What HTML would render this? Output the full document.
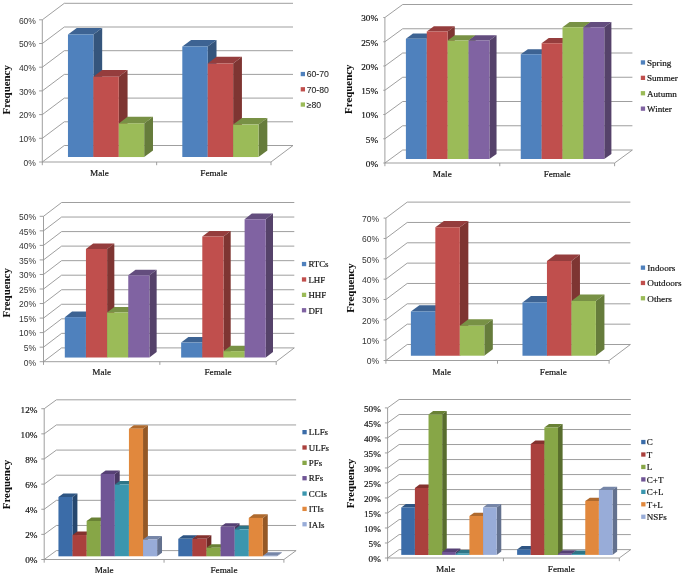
<!DOCTYPE html>
<html lang="en">
<head>
<meta charset="utf-8">
<title>Frequency charts</title>
<style>
html,body{margin:0;padding:0;background:#fff;}
body{width:685px;height:581px;overflow:hidden;}
svg{display:block;}
svg text{font-family:"Liberation Serif", serif;fill:#111;stroke:#111;stroke-width:0.18px;}
</style>
</head>
<body>
<svg width="685" height="581" viewBox="0 0 685 581">
<defs><filter id="soft" filterUnits="userSpaceOnUse" x="0" y="0" width="685" height="581"><feGaussianBlur stdDeviation="0.4"/></filter></defs>
<rect x="0" y="0" width="685" height="581" fill="#ffffff"/>
<g filter="url(#soft)">
<polyline points="42.3,162 64.3,145.5 293,145.5" fill="none" stroke="#949494" stroke-width="0.9"/>
<line x1="39.1" y1="162" x2="42.3" y2="162" stroke="#949494" stroke-width="0.9"/>
<polyline points="42.3,138.3 64.3,121.8 293,121.8" fill="none" stroke="#949494" stroke-width="0.9"/>
<line x1="39.1" y1="138.3" x2="42.3" y2="138.3" stroke="#949494" stroke-width="0.9"/>
<polyline points="42.3,114.6 64.3,98.1 293,98.1" fill="none" stroke="#949494" stroke-width="0.9"/>
<line x1="39.1" y1="114.6" x2="42.3" y2="114.6" stroke="#949494" stroke-width="0.9"/>
<polyline points="42.3,90.9 64.3,74.4 293,74.4" fill="none" stroke="#949494" stroke-width="0.9"/>
<line x1="39.1" y1="90.9" x2="42.3" y2="90.9" stroke="#949494" stroke-width="0.9"/>
<polyline points="42.3,67.2 64.3,50.7 293,50.7" fill="none" stroke="#949494" stroke-width="0.9"/>
<line x1="39.1" y1="67.2" x2="42.3" y2="67.2" stroke="#949494" stroke-width="0.9"/>
<polyline points="42.3,43.5 64.3,27 293,27" fill="none" stroke="#949494" stroke-width="0.9"/>
<line x1="39.1" y1="43.5" x2="42.3" y2="43.5" stroke="#949494" stroke-width="0.9"/>
<polyline points="42.3,19.8 64.3,3.3 293,3.3" fill="none" stroke="#949494" stroke-width="0.9"/>
<line x1="39.1" y1="19.8" x2="42.3" y2="19.8" stroke="#949494" stroke-width="0.9"/>
<line x1="271" y1="162" x2="293" y2="145.5" stroke="#949494" stroke-width="0.9"/>
<line x1="42.3" y1="162" x2="271" y2="162" stroke="#949494" stroke-width="0.9"/>
<line x1="42.3" y1="19.8" x2="42.3" y2="165.2" stroke="#949494" stroke-width="0.9"/>
<line x1="156.65" y1="162" x2="156.65" y2="165.2" stroke="#949494" stroke-width="0.9"/>
<line x1="271" y1="162" x2="271" y2="165.2" stroke="#949494" stroke-width="0.9"/>
<polygon points="67.96,34.52 93.37,34.52 102.17,27.92 76.76,27.92" fill="#3d6493"/>
<polygon points="93.37,157.05 102.17,150.45 102.17,27.92 93.37,34.52" fill="#34557c"/>
<polygon points="67.96,157.05 93.37,157.05 93.37,34.52 67.96,34.52" fill="#4F81BD"/>
<polygon points="93.37,76.71 118.78,76.71 127.58,70.11 102.17,70.11" fill="#953e3c"/>
<polygon points="118.78,157.05 127.58,150.45 127.58,70.11 118.78,76.71" fill="#7e3432"/>
<polygon points="93.37,157.05 118.78,157.05 118.78,76.71 93.37,76.71" fill="#C0504D"/>
<polygon points="118.78,123.4 144.19,123.4 152.99,116.8 127.58,116.8" fill="#789145"/>
<polygon points="144.19,157.05 152.99,150.45 152.99,116.8 144.19,123.4" fill="#667b3a"/>
<polygon points="118.78,157.05 144.19,157.05 144.19,123.4 118.78,123.4" fill="#9BBB59"/>
<polygon points="182.31,46.61 207.72,46.61 216.52,40.01 191.11,40.01" fill="#3d6493"/>
<polygon points="207.72,157.05 216.52,150.45 216.52,40.01 207.72,46.61" fill="#34557c"/>
<polygon points="182.31,157.05 207.72,157.05 207.72,46.61 182.31,46.61" fill="#4F81BD"/>
<polygon points="207.72,63.44 233.13,63.44 241.93,56.84 216.52,56.84" fill="#953e3c"/>
<polygon points="233.13,157.05 241.93,150.45 241.93,56.84 233.13,63.44" fill="#7e3432"/>
<polygon points="207.72,157.05 233.13,157.05 233.13,63.44 207.72,63.44" fill="#C0504D"/>
<polygon points="233.13,124.58 258.54,124.58 267.34,117.98 241.93,117.98" fill="#789145"/>
<polygon points="258.54,157.05 267.34,150.45 267.34,117.98 258.54,124.58" fill="#667b3a"/>
<polygon points="233.13,157.05 258.54,157.05 258.54,124.58 233.13,124.58" fill="#9BBB59"/>
<rect x="300.7" y="71.9" width="4.3" height="4.3" fill="#4F81BD"/>
<rect x="300.7" y="87.15" width="4.3" height="4.3" fill="#C0504D"/>
<rect x="300.7" y="102.4" width="4.3" height="4.3" fill="#9BBB59"/>
</g>
<g>
<text x="35.9" y="165.8" text-anchor="end" font-size="8.5" style="font-family:&quot;Liberation Sans&quot;, sans-serif;fill:#333;stroke:none">0%</text>
<text x="35.9" y="142.1" text-anchor="end" font-size="8.5" style="font-family:&quot;Liberation Sans&quot;, sans-serif;fill:#333;stroke:none">10%</text>
<text x="35.9" y="118.4" text-anchor="end" font-size="8.5" style="font-family:&quot;Liberation Sans&quot;, sans-serif;fill:#333;stroke:none">20%</text>
<text x="35.9" y="94.7" text-anchor="end" font-size="8.5" style="font-family:&quot;Liberation Sans&quot;, sans-serif;fill:#333;stroke:none">30%</text>
<text x="35.9" y="71" text-anchor="end" font-size="8.5" style="font-family:&quot;Liberation Sans&quot;, sans-serif;fill:#333;stroke:none">40%</text>
<text x="35.9" y="47.3" text-anchor="end" font-size="8.5" style="font-family:&quot;Liberation Sans&quot;, sans-serif;fill:#333;stroke:none">50%</text>
<text x="35.9" y="23.6" text-anchor="end" font-size="8.5" style="font-family:&quot;Liberation Sans&quot;, sans-serif;fill:#333;stroke:none">60%</text>
<text x="99.47" y="176" text-anchor="middle" font-size="9.2">Male</text>
<text x="213.82" y="176" text-anchor="middle" font-size="9.2">Female</text>
<text transform="translate(10,89.8) rotate(-90)" text-anchor="middle" font-weight="bold" font-size="10.9" style="stroke-width:0.05px">Frequency</text>
<text x="306.7" y="77.3" font-size="8.7" style="font-family:&quot;Liberation Sans&quot;, sans-serif;fill:#2b2b2b;stroke-width:0.08px">60-70</text>
<text x="306.7" y="92.55" font-size="8.7" style="font-family:&quot;Liberation Sans&quot;, sans-serif;fill:#2b2b2b;stroke-width:0.08px">70-80</text>
<text x="306.7" y="107.8" font-size="8.7" style="font-family:&quot;Liberation Sans&quot;, sans-serif;fill:#2b2b2b;stroke-width:0.08px">≥80</text>
</g>
<g filter="url(#soft)">
<polyline points="384.9,163 402.7,150 632.4,150" fill="none" stroke="#949494" stroke-width="0.9"/>
<line x1="383.3" y1="163" x2="384.9" y2="163" stroke="#949494" stroke-width="0.9"/>
<polyline points="384.9,138.75 402.7,125.75 632.4,125.75" fill="none" stroke="#949494" stroke-width="0.9"/>
<line x1="383.3" y1="138.75" x2="384.9" y2="138.75" stroke="#949494" stroke-width="0.9"/>
<polyline points="384.9,114.5 402.7,101.5 632.4,101.5" fill="none" stroke="#949494" stroke-width="0.9"/>
<line x1="383.3" y1="114.5" x2="384.9" y2="114.5" stroke="#949494" stroke-width="0.9"/>
<polyline points="384.9,90.25 402.7,77.25 632.4,77.25" fill="none" stroke="#949494" stroke-width="0.9"/>
<line x1="383.3" y1="90.25" x2="384.9" y2="90.25" stroke="#949494" stroke-width="0.9"/>
<polyline points="384.9,66 402.7,53 632.4,53" fill="none" stroke="#949494" stroke-width="0.9"/>
<line x1="383.3" y1="66" x2="384.9" y2="66" stroke="#949494" stroke-width="0.9"/>
<polyline points="384.9,41.75 402.7,28.75 632.4,28.75" fill="none" stroke="#949494" stroke-width="0.9"/>
<line x1="383.3" y1="41.75" x2="384.9" y2="41.75" stroke="#949494" stroke-width="0.9"/>
<polyline points="384.9,17.5 402.7,4.5 632.4,4.5" fill="none" stroke="#949494" stroke-width="0.9"/>
<line x1="383.3" y1="17.5" x2="384.9" y2="17.5" stroke="#949494" stroke-width="0.9"/>
<line x1="614.6" y1="163" x2="632.4" y2="150" stroke="#949494" stroke-width="0.9"/>
<line x1="384.9" y1="163" x2="614.6" y2="163" stroke="#949494" stroke-width="0.9"/>
<line x1="384.9" y1="17.5" x2="384.9" y2="166.2" stroke="#949494" stroke-width="0.9"/>
<line x1="499.75" y1="163" x2="499.75" y2="166.2" stroke="#949494" stroke-width="0.9"/>
<line x1="614.6" y1="163" x2="614.6" y2="166.2" stroke="#949494" stroke-width="0.9"/>
<polygon points="405.9,38.82 426.78,38.82 433.9,33.62 413.02,33.62" fill="#3d6493"/>
<polygon points="426.78,159.1 433.9,153.9 433.9,33.62 426.78,38.82" fill="#34557c"/>
<polygon points="405.9,159.1 426.78,159.1 426.78,38.82 405.9,38.82" fill="#4F81BD"/>
<polygon points="426.78,31.55 447.66,31.55 454.78,26.35 433.9,26.35" fill="#953e3c"/>
<polygon points="447.66,159.1 454.78,153.9 454.78,26.35 447.66,31.55" fill="#7e3432"/>
<polygon points="426.78,159.1 447.66,159.1 447.66,31.55 426.78,31.55" fill="#C0504D"/>
<polygon points="447.66,40.52 468.55,40.52 475.67,35.32 454.78,35.32" fill="#789145"/>
<polygon points="468.55,159.1 475.67,153.9 475.67,35.32 468.55,40.52" fill="#667b3a"/>
<polygon points="447.66,159.1 468.55,159.1 468.55,40.52 447.66,40.52" fill="#9BBB59"/>
<polygon points="468.55,40.52 489.43,40.52 496.55,35.32 475.67,35.32" fill="#634e7e"/>
<polygon points="489.43,159.1 496.55,153.9 496.55,35.32 489.43,40.52" fill="#54426a"/>
<polygon points="468.55,159.1 489.43,159.1 489.43,40.52 468.55,40.52" fill="#8064A2"/>
<polygon points="520.75,54.34 541.63,54.34 548.75,49.14 527.87,49.14" fill="#3d6493"/>
<polygon points="541.63,159.1 548.75,153.9 548.75,49.14 541.63,54.34" fill="#34557c"/>
<polygon points="520.75,159.1 541.63,159.1 541.63,54.34 520.75,54.34" fill="#4F81BD"/>
<polygon points="541.63,43.19 562.51,43.19 569.63,37.99 548.75,37.99" fill="#953e3c"/>
<polygon points="562.51,159.1 569.63,153.9 569.63,37.99 562.51,43.19" fill="#7e3432"/>
<polygon points="541.63,159.1 562.51,159.1 562.51,43.19 541.63,43.19" fill="#C0504D"/>
<polygon points="562.51,27.18 583.4,27.18 590.52,21.98 569.63,21.98" fill="#789145"/>
<polygon points="583.4,159.1 590.52,153.9 590.52,21.98 583.4,27.18" fill="#667b3a"/>
<polygon points="562.51,159.1 583.4,159.1 583.4,27.18 562.51,27.18" fill="#9BBB59"/>
<polygon points="583.4,27.18 604.28,27.18 611.4,21.98 590.52,21.98" fill="#634e7e"/>
<polygon points="604.28,159.1 611.4,153.9 611.4,21.98 604.28,27.18" fill="#54426a"/>
<polygon points="583.4,159.1 604.28,159.1 604.28,27.18 583.4,27.18" fill="#8064A2"/>
<rect x="640.8" y="60.3" width="4.3" height="4.3" fill="#4F81BD"/>
<rect x="640.8" y="75.7" width="4.3" height="4.3" fill="#C0504D"/>
<rect x="640.8" y="91.1" width="4.3" height="4.3" fill="#9BBB59"/>
<rect x="640.8" y="106.5" width="4.3" height="4.3" fill="#8064A2"/>
</g>
<g>
<text x="378.1" y="166.9" text-anchor="end" font-size="9.2">0%</text>
<text x="378.1" y="142.65" text-anchor="end" font-size="9.2">5%</text>
<text x="378.1" y="118.4" text-anchor="end" font-size="9.2">10%</text>
<text x="378.1" y="94.15" text-anchor="end" font-size="9.2">15%</text>
<text x="378.1" y="69.9" text-anchor="end" font-size="9.2">20%</text>
<text x="378.1" y="45.65" text-anchor="end" font-size="9.2">25%</text>
<text x="378.1" y="21.4" text-anchor="end" font-size="9.2">30%</text>
<text x="442.32" y="177" text-anchor="middle" font-size="9.2">Male</text>
<text x="557.17" y="177" text-anchor="middle" font-size="9.2">Female</text>
<text transform="translate(351.5,89.2) rotate(-90)" text-anchor="middle" font-weight="bold" font-size="10.9" style="stroke-width:0.05px">Frequency</text>
<text x="647" y="65.7" font-size="9.1">Spring</text>
<text x="647" y="81.1" font-size="9.1">Summer</text>
<text x="647" y="96.5" font-size="9.1">Autumn</text>
<text x="647" y="111.9" font-size="9.1">Winter</text>
</g>
<g filter="url(#soft)">
<polyline points="43.5,361.7 61.6,347.9 294.3,347.9" fill="none" stroke="#949494" stroke-width="0.9"/>
<line x1="39.7" y1="361.7" x2="43.5" y2="361.7" stroke="#949494" stroke-width="0.9"/>
<polyline points="43.5,347.16 61.6,333.36 294.3,333.36" fill="none" stroke="#949494" stroke-width="0.9"/>
<line x1="39.7" y1="347.16" x2="43.5" y2="347.16" stroke="#949494" stroke-width="0.9"/>
<polyline points="43.5,332.62 61.6,318.82 294.3,318.82" fill="none" stroke="#949494" stroke-width="0.9"/>
<line x1="39.7" y1="332.62" x2="43.5" y2="332.62" stroke="#949494" stroke-width="0.9"/>
<polyline points="43.5,318.08 61.6,304.28 294.3,304.28" fill="none" stroke="#949494" stroke-width="0.9"/>
<line x1="39.7" y1="318.08" x2="43.5" y2="318.08" stroke="#949494" stroke-width="0.9"/>
<polyline points="43.5,303.54 61.6,289.74 294.3,289.74" fill="none" stroke="#949494" stroke-width="0.9"/>
<line x1="39.7" y1="303.54" x2="43.5" y2="303.54" stroke="#949494" stroke-width="0.9"/>
<polyline points="43.5,289 61.6,275.2 294.3,275.2" fill="none" stroke="#949494" stroke-width="0.9"/>
<line x1="39.7" y1="289" x2="43.5" y2="289" stroke="#949494" stroke-width="0.9"/>
<polyline points="43.5,274.46 61.6,260.66 294.3,260.66" fill="none" stroke="#949494" stroke-width="0.9"/>
<line x1="39.7" y1="274.46" x2="43.5" y2="274.46" stroke="#949494" stroke-width="0.9"/>
<polyline points="43.5,259.92 61.6,246.12 294.3,246.12" fill="none" stroke="#949494" stroke-width="0.9"/>
<line x1="39.7" y1="259.92" x2="43.5" y2="259.92" stroke="#949494" stroke-width="0.9"/>
<polyline points="43.5,245.38 61.6,231.58 294.3,231.58" fill="none" stroke="#949494" stroke-width="0.9"/>
<line x1="39.7" y1="245.38" x2="43.5" y2="245.38" stroke="#949494" stroke-width="0.9"/>
<polyline points="43.5,230.84 61.6,217.04 294.3,217.04" fill="none" stroke="#949494" stroke-width="0.9"/>
<line x1="39.7" y1="230.84" x2="43.5" y2="230.84" stroke="#949494" stroke-width="0.9"/>
<polyline points="43.5,216.3 61.6,202.5 294.3,202.5" fill="none" stroke="#949494" stroke-width="0.9"/>
<line x1="39.7" y1="216.3" x2="43.5" y2="216.3" stroke="#949494" stroke-width="0.9"/>
<line x1="276.2" y1="361.7" x2="294.3" y2="347.9" stroke="#949494" stroke-width="0.9"/>
<line x1="43.5" y1="361.7" x2="276.2" y2="361.7" stroke="#949494" stroke-width="0.9"/>
<line x1="43.5" y1="216.3" x2="43.5" y2="364.9" stroke="#949494" stroke-width="0.9"/>
<line x1="159.85" y1="361.7" x2="159.85" y2="364.9" stroke="#949494" stroke-width="0.9"/>
<line x1="276.2" y1="361.7" x2="276.2" y2="364.9" stroke="#949494" stroke-width="0.9"/>
<polygon points="64.8,317.14 85.95,317.14 93.19,311.62 72.04,311.62" fill="#3d6493"/>
<polygon points="85.95,357.56 93.19,352.04 93.19,311.62 85.95,317.14" fill="#34557c"/>
<polygon points="64.8,357.56 85.95,357.56 85.95,317.14 64.8,317.14" fill="#4F81BD"/>
<polygon points="85.95,249.09 107.11,249.09 114.34,243.57 93.19,243.57" fill="#953e3c"/>
<polygon points="107.11,357.56 114.34,352.04 114.34,243.57 107.11,249.09" fill="#7e3432"/>
<polygon points="85.95,357.56 107.11,357.56 107.11,249.09 85.95,249.09" fill="#C0504D"/>
<polygon points="107.1,312.49 128.26,312.49 135.5,306.97 114.34,306.97" fill="#789145"/>
<polygon points="128.26,357.56 135.5,352.04 135.5,306.97 128.26,312.49" fill="#667b3a"/>
<polygon points="107.1,357.56 128.26,357.56 128.26,312.49 107.1,312.49" fill="#9BBB59"/>
<polygon points="128.26,275.26 149.41,275.26 156.65,269.74 135.5,269.74" fill="#634e7e"/>
<polygon points="149.41,357.56 156.65,352.04 156.65,269.74 149.41,275.26" fill="#54426a"/>
<polygon points="128.26,357.56 149.41,357.56 149.41,275.26 128.26,275.26" fill="#8064A2"/>
<polygon points="181.15,342.58 202.3,342.58 209.54,337.06 188.39,337.06" fill="#3d6493"/>
<polygon points="202.3,357.56 209.54,352.04 209.54,337.06 202.3,342.58" fill="#34557c"/>
<polygon points="181.15,357.56 202.3,357.56 202.3,342.58 181.15,342.58" fill="#4F81BD"/>
<polygon points="202.3,236.59 223.46,236.59 230.7,231.07 209.54,231.07" fill="#953e3c"/>
<polygon points="223.46,357.56 230.7,352.04 230.7,231.07 223.46,236.59" fill="#7e3432"/>
<polygon points="202.3,357.56 223.46,357.56 223.46,236.59 202.3,236.59" fill="#C0504D"/>
<polygon points="223.46,351.16 244.61,351.16 251.85,345.64 230.7,345.64" fill="#789145"/>
<polygon points="244.61,357.56 251.85,352.04 251.85,345.64 244.61,351.16" fill="#667b3a"/>
<polygon points="223.46,357.56 244.61,357.56 244.61,351.16 223.46,351.16" fill="#9BBB59"/>
<polygon points="244.61,219.14 265.76,219.14 273,213.62 251.85,213.62" fill="#634e7e"/>
<polygon points="265.76,357.56 273,352.04 273,213.62 265.76,219.14" fill="#54426a"/>
<polygon points="244.61,357.56 265.76,357.56 265.76,219.14 244.61,219.14" fill="#8064A2"/>
<rect x="301.9" y="261.9" width="4.3" height="4.3" fill="#4F81BD"/>
<rect x="301.9" y="277.3" width="4.3" height="4.3" fill="#C0504D"/>
<rect x="301.9" y="292.7" width="4.3" height="4.3" fill="#9BBB59"/>
<rect x="301.9" y="308.1" width="4.3" height="4.3" fill="#8064A2"/>
</g>
<g>
<text x="36.1" y="365.5" text-anchor="end" font-size="8.5" style="font-family:&quot;Liberation Sans&quot;, sans-serif;fill:#333;stroke:none">0%</text>
<text x="36.1" y="350.96" text-anchor="end" font-size="8.5" style="font-family:&quot;Liberation Sans&quot;, sans-serif;fill:#333;stroke:none">5%</text>
<text x="36.1" y="336.42" text-anchor="end" font-size="8.5" style="font-family:&quot;Liberation Sans&quot;, sans-serif;fill:#333;stroke:none">10%</text>
<text x="36.1" y="321.88" text-anchor="end" font-size="8.5" style="font-family:&quot;Liberation Sans&quot;, sans-serif;fill:#333;stroke:none">15%</text>
<text x="36.1" y="307.34" text-anchor="end" font-size="8.5" style="font-family:&quot;Liberation Sans&quot;, sans-serif;fill:#333;stroke:none">20%</text>
<text x="36.1" y="292.8" text-anchor="end" font-size="8.5" style="font-family:&quot;Liberation Sans&quot;, sans-serif;fill:#333;stroke:none">25%</text>
<text x="36.1" y="278.26" text-anchor="end" font-size="8.5" style="font-family:&quot;Liberation Sans&quot;, sans-serif;fill:#333;stroke:none">30%</text>
<text x="36.1" y="263.72" text-anchor="end" font-size="8.5" style="font-family:&quot;Liberation Sans&quot;, sans-serif;fill:#333;stroke:none">35%</text>
<text x="36.1" y="249.18" text-anchor="end" font-size="8.5" style="font-family:&quot;Liberation Sans&quot;, sans-serif;fill:#333;stroke:none">40%</text>
<text x="36.1" y="234.64" text-anchor="end" font-size="8.5" style="font-family:&quot;Liberation Sans&quot;, sans-serif;fill:#333;stroke:none">45%</text>
<text x="36.1" y="220.1" text-anchor="end" font-size="8.5" style="font-family:&quot;Liberation Sans&quot;, sans-serif;fill:#333;stroke:none">50%</text>
<text x="101.67" y="375.2" text-anchor="middle" font-size="9.2">Male</text>
<text x="218.02" y="375.2" text-anchor="middle" font-size="9.2">Female</text>
<text transform="translate(10.2,292.8) rotate(-90)" text-anchor="middle" font-weight="bold" font-size="10.9" style="stroke-width:0.05px">Frequency</text>
<text x="308.4" y="267.3" font-size="8.9">RTCs</text>
<text x="308.4" y="282.7" font-size="8.9">LHF</text>
<text x="308.4" y="298.1" font-size="8.9">HHF</text>
<text x="308.4" y="313.5" font-size="8.9">DFI</text>
</g>
<g filter="url(#soft)">
<polyline points="385.9,360.5 407.2,344.5 630.4,344.5" fill="none" stroke="#949494" stroke-width="0.9"/>
<line x1="383.6" y1="360.5" x2="385.9" y2="360.5" stroke="#949494" stroke-width="0.9"/>
<polyline points="385.9,340.16 407.2,324.16 630.4,324.16" fill="none" stroke="#949494" stroke-width="0.9"/>
<line x1="383.6" y1="340.16" x2="385.9" y2="340.16" stroke="#949494" stroke-width="0.9"/>
<polyline points="385.9,319.82 407.2,303.82 630.4,303.82" fill="none" stroke="#949494" stroke-width="0.9"/>
<line x1="383.6" y1="319.82" x2="385.9" y2="319.82" stroke="#949494" stroke-width="0.9"/>
<polyline points="385.9,299.48 407.2,283.48 630.4,283.48" fill="none" stroke="#949494" stroke-width="0.9"/>
<line x1="383.6" y1="299.48" x2="385.9" y2="299.48" stroke="#949494" stroke-width="0.9"/>
<polyline points="385.9,279.14 407.2,263.14 630.4,263.14" fill="none" stroke="#949494" stroke-width="0.9"/>
<line x1="383.6" y1="279.14" x2="385.9" y2="279.14" stroke="#949494" stroke-width="0.9"/>
<polyline points="385.9,258.8 407.2,242.8 630.4,242.8" fill="none" stroke="#949494" stroke-width="0.9"/>
<line x1="383.6" y1="258.8" x2="385.9" y2="258.8" stroke="#949494" stroke-width="0.9"/>
<polyline points="385.9,238.46 407.2,222.46 630.4,222.46" fill="none" stroke="#949494" stroke-width="0.9"/>
<line x1="383.6" y1="238.46" x2="385.9" y2="238.46" stroke="#949494" stroke-width="0.9"/>
<polyline points="385.9,218.12 407.2,202.12 630.4,202.12" fill="none" stroke="#949494" stroke-width="0.9"/>
<line x1="383.6" y1="218.12" x2="385.9" y2="218.12" stroke="#949494" stroke-width="0.9"/>
<line x1="609.1" y1="360.5" x2="630.4" y2="344.5" stroke="#949494" stroke-width="0.9"/>
<line x1="385.9" y1="360.5" x2="609.1" y2="360.5" stroke="#949494" stroke-width="0.9"/>
<line x1="385.9" y1="218.12" x2="385.9" y2="363.7" stroke="#949494" stroke-width="0.9"/>
<line x1="497.5" y1="360.5" x2="497.5" y2="363.7" stroke="#949494" stroke-width="0.9"/>
<line x1="609.1" y1="360.5" x2="609.1" y2="363.7" stroke="#949494" stroke-width="0.9"/>
<polygon points="410.88,311.56 435.35,311.56 443.87,305.16 419.4,305.16" fill="#3d6493"/>
<polygon points="435.35,355.7 443.87,349.3 443.87,305.16 435.35,311.56" fill="#34557c"/>
<polygon points="410.88,355.7 435.35,355.7 435.35,311.56 410.88,311.56" fill="#4F81BD"/>
<polygon points="435.35,227.35 459.83,227.35 468.35,220.95 443.87,220.95" fill="#953e3c"/>
<polygon points="459.83,355.7 468.35,349.3 468.35,220.95 459.83,227.35" fill="#7e3432"/>
<polygon points="435.35,355.7 459.83,355.7 459.83,227.35 435.35,227.35" fill="#C0504D"/>
<polygon points="459.83,325.7 484.3,325.7 492.82,319.3 468.35,319.3" fill="#789145"/>
<polygon points="484.3,355.7 492.82,349.3 492.82,319.3 484.3,325.7" fill="#667b3a"/>
<polygon points="459.83,355.7 484.3,355.7 484.3,325.7 459.83,325.7" fill="#9BBB59"/>
<polygon points="522.48,302.41 546.95,302.41 555.47,296.01 531,296.01" fill="#3d6493"/>
<polygon points="546.95,355.7 555.47,349.3 555.47,296.01 546.95,302.41" fill="#34557c"/>
<polygon points="522.48,355.7 546.95,355.7 546.95,302.41 522.48,302.41" fill="#4F81BD"/>
<polygon points="546.95,260.92 571.43,260.92 579.95,254.52 555.47,254.52" fill="#953e3c"/>
<polygon points="571.43,355.7 579.95,349.3 579.95,254.52 571.43,260.92" fill="#7e3432"/>
<polygon points="546.95,355.7 571.43,355.7 571.43,260.92 546.95,260.92" fill="#C0504D"/>
<polygon points="571.43,300.99 595.9,300.99 604.42,294.59 579.95,294.59" fill="#789145"/>
<polygon points="595.9,355.7 604.42,349.3 604.42,294.59 595.9,300.99" fill="#667b3a"/>
<polygon points="571.43,355.7 595.9,355.7 595.9,300.99 571.43,300.99" fill="#9BBB59"/>
<rect x="640.8" y="265.5" width="4.3" height="4.3" fill="#4F81BD"/>
<rect x="640.8" y="280.8" width="4.3" height="4.3" fill="#C0504D"/>
<rect x="640.8" y="296.1" width="4.3" height="4.3" fill="#9BBB59"/>
</g>
<g>
<text x="379" y="364.3" text-anchor="end" font-size="8.5" style="font-family:&quot;Liberation Sans&quot;, sans-serif;fill:#333;stroke:none">0%</text>
<text x="379" y="343.96" text-anchor="end" font-size="8.5" style="font-family:&quot;Liberation Sans&quot;, sans-serif;fill:#333;stroke:none">10%</text>
<text x="379" y="323.62" text-anchor="end" font-size="8.5" style="font-family:&quot;Liberation Sans&quot;, sans-serif;fill:#333;stroke:none">20%</text>
<text x="379" y="303.28" text-anchor="end" font-size="8.5" style="font-family:&quot;Liberation Sans&quot;, sans-serif;fill:#333;stroke:none">30%</text>
<text x="379" y="282.94" text-anchor="end" font-size="8.5" style="font-family:&quot;Liberation Sans&quot;, sans-serif;fill:#333;stroke:none">40%</text>
<text x="379" y="262.6" text-anchor="end" font-size="8.5" style="font-family:&quot;Liberation Sans&quot;, sans-serif;fill:#333;stroke:none">50%</text>
<text x="379" y="242.26" text-anchor="end" font-size="8.5" style="font-family:&quot;Liberation Sans&quot;, sans-serif;fill:#333;stroke:none">60%</text>
<text x="379" y="221.92" text-anchor="end" font-size="8.5" style="font-family:&quot;Liberation Sans&quot;, sans-serif;fill:#333;stroke:none">70%</text>
<text x="441.7" y="374.5" text-anchor="middle" font-size="9.2">Male</text>
<text x="553.3" y="374.5" text-anchor="middle" font-size="9.2">Female</text>
<text transform="translate(353.9,288.1) rotate(-90)" text-anchor="middle" font-weight="bold" font-size="10.9" style="stroke-width:0.05px">Frequency</text>
<text x="647.3" y="270.9" font-size="9.2">Indoors</text>
<text x="647.3" y="286.2" font-size="9.2">Outdoors</text>
<text x="647.3" y="301.5" font-size="9.2">Others</text>
</g>
<g filter="url(#soft)">
<polyline points="44.2,559.5 56.4,550.6 296.1,550.6" fill="none" stroke="#949494" stroke-width="0.9"/>
<line x1="41.3" y1="559.5" x2="44.2" y2="559.5" stroke="#949494" stroke-width="0.9"/>
<polyline points="44.2,534.37 56.4,525.47 296.1,525.47" fill="none" stroke="#949494" stroke-width="0.9"/>
<line x1="41.3" y1="534.37" x2="44.2" y2="534.37" stroke="#949494" stroke-width="0.9"/>
<polyline points="44.2,509.24 56.4,500.34 296.1,500.34" fill="none" stroke="#949494" stroke-width="0.9"/>
<line x1="41.3" y1="509.24" x2="44.2" y2="509.24" stroke="#949494" stroke-width="0.9"/>
<polyline points="44.2,484.11 56.4,475.21 296.1,475.21" fill="none" stroke="#949494" stroke-width="0.9"/>
<line x1="41.3" y1="484.11" x2="44.2" y2="484.11" stroke="#949494" stroke-width="0.9"/>
<polyline points="44.2,458.98 56.4,450.08 296.1,450.08" fill="none" stroke="#949494" stroke-width="0.9"/>
<line x1="41.3" y1="458.98" x2="44.2" y2="458.98" stroke="#949494" stroke-width="0.9"/>
<polyline points="44.2,433.85 56.4,424.95 296.1,424.95" fill="none" stroke="#949494" stroke-width="0.9"/>
<line x1="41.3" y1="433.85" x2="44.2" y2="433.85" stroke="#949494" stroke-width="0.9"/>
<polyline points="44.2,408.72 56.4,399.82 296.1,399.82" fill="none" stroke="#949494" stroke-width="0.9"/>
<line x1="41.3" y1="408.72" x2="44.2" y2="408.72" stroke="#949494" stroke-width="0.9"/>
<line x1="283.9" y1="559.5" x2="296.1" y2="550.6" stroke="#949494" stroke-width="0.9"/>
<line x1="44.2" y1="559.5" x2="283.9" y2="559.5" stroke="#949494" stroke-width="0.9"/>
<line x1="44.2" y1="408.72" x2="44.2" y2="562.7" stroke="#949494" stroke-width="0.9"/>
<line x1="164.05" y1="559.5" x2="164.05" y2="562.7" stroke="#949494" stroke-width="0.9"/>
<line x1="283.9" y1="559.5" x2="283.9" y2="562.7" stroke="#949494" stroke-width="0.9"/>
<polygon points="58.44,496.96 72.53,496.96 77.41,493.4 63.32,493.4" fill="#2d5483"/>
<polygon points="72.53,556.33 77.41,552.77 77.41,493.4 72.53,496.96" fill="#26476e"/>
<polygon points="58.44,556.33 72.53,556.33 72.53,496.96 58.44,496.96" fill="#3A6CA8"/>
<polygon points="72.53,535.03 86.63,535.03 91.51,531.47 77.41,531.47" fill="#84312e"/>
<polygon points="86.63,556.33 91.51,552.77 91.51,531.47 86.63,535.03" fill="#702927"/>
<polygon points="72.53,556.33 86.63,556.33 86.63,535.03 72.53,535.03" fill="#AA3F3C"/>
<polygon points="86.64,520.96 100.73,520.96 105.61,517.4 91.52,517.4" fill="#698136"/>
<polygon points="100.73,556.33 105.61,552.77 105.61,517.4 100.73,520.96" fill="#596d2e"/>
<polygon points="86.64,556.33 100.73,556.33 100.73,520.96 86.64,520.96" fill="#87A646"/>
<polygon points="100.73,473.97 114.83,473.97 119.71,470.41 105.61,470.41" fill="#564174"/>
<polygon points="114.83,556.33 119.71,552.77 119.71,470.41 114.83,473.97" fill="#493762"/>
<polygon points="100.73,556.33 114.83,556.33 114.83,473.97 100.73,473.97" fill="#6F5495"/>
<polygon points="114.84,484.52 128.94,484.52 133.81,480.96 119.72,480.96" fill="#2d7587"/>
<polygon points="128.94,556.33 133.81,552.77 133.81,480.96 128.94,484.52" fill="#266372"/>
<polygon points="114.84,556.33 128.94,556.33 128.94,484.52 114.84,484.52" fill="#3A96AE"/>
<polygon points="128.94,428.73 143.03,428.73 147.91,425.17 133.81,425.17" fill="#af6a2e"/>
<polygon points="143.03,556.33 147.91,552.77 147.91,425.17 143.03,428.73" fill="#945927"/>
<polygon points="128.94,556.33 143.03,556.33 143.03,428.73 128.94,428.73" fill="#E1883C"/>
<polygon points="143.03,539.56 157.13,539.56 162.01,536 147.91,536" fill="#7686a8"/>
<polygon points="157.13,556.33 162.01,552.77 162.01,536 157.13,539.56" fill="#64718e"/>
<polygon points="143.03,556.33 157.13,556.33 157.13,539.56 143.03,539.56" fill="#98ACD8"/>
<polygon points="178.28,538.86 192.38,538.86 197.26,535.3 183.16,535.3" fill="#2d5483"/>
<polygon points="192.38,556.33 197.26,552.77 197.26,535.3 192.38,538.86" fill="#26476e"/>
<polygon points="178.28,556.33 192.38,556.33 192.38,538.86 178.28,538.86" fill="#3A6CA8"/>
<polygon points="192.38,538.86 206.48,538.86 211.36,535.3 197.26,535.3" fill="#84312e"/>
<polygon points="206.48,556.33 211.36,552.77 211.36,535.3 206.48,538.86" fill="#702927"/>
<polygon points="192.38,556.33 206.48,556.33 206.48,538.86 192.38,538.86" fill="#AA3F3C"/>
<polygon points="206.48,547.79 220.58,547.79 225.46,544.23 211.36,544.23" fill="#698136"/>
<polygon points="220.58,556.33 225.46,552.77 225.46,544.23 220.58,547.79" fill="#596d2e"/>
<polygon points="206.48,556.33 220.58,556.33 220.58,547.79 206.48,547.79" fill="#87A646"/>
<polygon points="220.59,526.8 234.69,526.8 239.56,523.24 225.47,523.24" fill="#564174"/>
<polygon points="234.69,556.33 239.56,552.77 239.56,523.24 234.69,526.8" fill="#493762"/>
<polygon points="220.59,556.33 234.69,556.33 234.69,526.8 220.59,526.8" fill="#6F5495"/>
<polygon points="234.69,529.32 248.78,529.32 253.66,525.76 239.56,525.76" fill="#2d7587"/>
<polygon points="248.78,556.33 253.66,552.77 253.66,525.76 248.78,529.32" fill="#266372"/>
<polygon points="234.69,556.33 248.78,556.33 248.78,529.32 234.69,529.32" fill="#3A96AE"/>
<polygon points="248.78,517.88 262.88,517.88 267.76,514.32 253.66,514.32" fill="#af6a2e"/>
<polygon points="262.88,556.33 267.76,552.77 267.76,514.32 262.88,517.88" fill="#945927"/>
<polygon points="248.78,556.33 262.88,556.33 262.88,517.88 248.78,517.88" fill="#E1883C"/>
<polygon points="262.89,555.83 276.99,555.83 281.87,552.27 267.77,552.27" fill="#7686a8"/>
<polygon points="276.99,556.33 281.87,552.77 281.87,552.27 276.99,555.83" fill="#64718e"/>
<polygon points="262.89,556.33 276.99,556.33 276.99,555.83 262.89,555.83" fill="#98ACD8"/>
<rect x="302.4" y="430" width="4.3" height="4.3" fill="#3A6CA8"/>
<rect x="302.4" y="445.35" width="4.3" height="4.3" fill="#AA3F3C"/>
<rect x="302.4" y="460.7" width="4.3" height="4.3" fill="#87A646"/>
<rect x="302.4" y="476.05" width="4.3" height="4.3" fill="#6F5495"/>
<rect x="302.4" y="491.4" width="4.3" height="4.3" fill="#3A96AE"/>
<rect x="302.4" y="506.75" width="4.3" height="4.3" fill="#E1883C"/>
<rect x="302.4" y="522.1" width="4.3" height="4.3" fill="#98ACD8"/>
</g>
<g>
<text x="37.4" y="563.4" text-anchor="end" font-size="9.2">0%</text>
<text x="37.4" y="538.27" text-anchor="end" font-size="9.2">2%</text>
<text x="37.4" y="513.14" text-anchor="end" font-size="9.2">4%</text>
<text x="37.4" y="488.01" text-anchor="end" font-size="9.2">6%</text>
<text x="37.4" y="462.88" text-anchor="end" font-size="9.2">8%</text>
<text x="37.4" y="437.75" text-anchor="end" font-size="9.2">10%</text>
<text x="37.4" y="412.62" text-anchor="end" font-size="9.2">12%</text>
<text x="104.12" y="572.6" text-anchor="middle" font-size="9.2">Male</text>
<text x="223.97" y="572.6" text-anchor="middle" font-size="9.2">Female</text>
<text transform="translate(10.1,484.5) rotate(-90)" text-anchor="middle" font-weight="bold" font-size="10.9" style="stroke-width:0.05px">Frequency</text>
<text x="308.8" y="435.4" font-size="8.9">LLFs</text>
<text x="308.8" y="450.75" font-size="8.9">ULFs</text>
<text x="308.8" y="466.1" font-size="8.9">PFs</text>
<text x="308.8" y="481.45" font-size="8.9">RFs</text>
<text x="308.8" y="496.8" font-size="8.9">CCIs</text>
<text x="308.8" y="512.15" font-size="8.9">ITIs</text>
<text x="308.8" y="527.5" font-size="8.9">IAIs</text>
</g>
<g filter="url(#soft)">
<polyline points="387.6,558 399.1,549.6 630.8,549.6" fill="none" stroke="#949494" stroke-width="0.9"/>
<line x1="384.9" y1="558" x2="387.6" y2="558" stroke="#949494" stroke-width="0.9"/>
<polyline points="387.6,542.99 399.1,534.59 630.8,534.59" fill="none" stroke="#949494" stroke-width="0.9"/>
<line x1="384.9" y1="542.99" x2="387.6" y2="542.99" stroke="#949494" stroke-width="0.9"/>
<polyline points="387.6,527.98 399.1,519.58 630.8,519.58" fill="none" stroke="#949494" stroke-width="0.9"/>
<line x1="384.9" y1="527.98" x2="387.6" y2="527.98" stroke="#949494" stroke-width="0.9"/>
<polyline points="387.6,512.97 399.1,504.57 630.8,504.57" fill="none" stroke="#949494" stroke-width="0.9"/>
<line x1="384.9" y1="512.97" x2="387.6" y2="512.97" stroke="#949494" stroke-width="0.9"/>
<polyline points="387.6,497.96 399.1,489.56 630.8,489.56" fill="none" stroke="#949494" stroke-width="0.9"/>
<line x1="384.9" y1="497.96" x2="387.6" y2="497.96" stroke="#949494" stroke-width="0.9"/>
<polyline points="387.6,482.95 399.1,474.55 630.8,474.55" fill="none" stroke="#949494" stroke-width="0.9"/>
<line x1="384.9" y1="482.95" x2="387.6" y2="482.95" stroke="#949494" stroke-width="0.9"/>
<polyline points="387.6,467.94 399.1,459.54 630.8,459.54" fill="none" stroke="#949494" stroke-width="0.9"/>
<line x1="384.9" y1="467.94" x2="387.6" y2="467.94" stroke="#949494" stroke-width="0.9"/>
<polyline points="387.6,452.93 399.1,444.53 630.8,444.53" fill="none" stroke="#949494" stroke-width="0.9"/>
<line x1="384.9" y1="452.93" x2="387.6" y2="452.93" stroke="#949494" stroke-width="0.9"/>
<polyline points="387.6,437.92 399.1,429.52 630.8,429.52" fill="none" stroke="#949494" stroke-width="0.9"/>
<line x1="384.9" y1="437.92" x2="387.6" y2="437.92" stroke="#949494" stroke-width="0.9"/>
<polyline points="387.6,422.91 399.1,414.51 630.8,414.51" fill="none" stroke="#949494" stroke-width="0.9"/>
<line x1="384.9" y1="422.91" x2="387.6" y2="422.91" stroke="#949494" stroke-width="0.9"/>
<polyline points="387.6,407.9 399.1,399.5 630.8,399.5" fill="none" stroke="#949494" stroke-width="0.9"/>
<line x1="384.9" y1="407.9" x2="387.6" y2="407.9" stroke="#949494" stroke-width="0.9"/>
<line x1="619.3" y1="558" x2="630.8" y2="549.6" stroke="#949494" stroke-width="0.9"/>
<line x1="387.6" y1="558" x2="619.3" y2="558" stroke="#949494" stroke-width="0.9"/>
<line x1="387.6" y1="407.9" x2="387.6" y2="561.2" stroke="#949494" stroke-width="0.9"/>
<line x1="503.45" y1="558" x2="503.45" y2="561.2" stroke="#949494" stroke-width="0.9"/>
<line x1="619.3" y1="558" x2="619.3" y2="561.2" stroke="#949494" stroke-width="0.9"/>
<polygon points="401.27,507.45 414.9,507.45 419.5,504.09 405.87,504.09" fill="#2d5483"/>
<polygon points="414.9,554.88 419.5,551.52 419.5,504.09 414.9,507.45" fill="#26476e"/>
<polygon points="401.27,554.88 414.9,554.88 414.9,507.45 401.27,507.45" fill="#3A6CA8"/>
<polygon points="414.9,487.94 428.53,487.94 433.13,484.58 419.5,484.58" fill="#84312e"/>
<polygon points="428.53,554.88 433.13,551.52 433.13,484.58 428.53,487.94" fill="#702927"/>
<polygon points="414.9,554.88 428.53,554.88 428.53,487.94 414.9,487.94" fill="#AA3F3C"/>
<polygon points="428.53,414.39 442.16,414.39 446.76,411.03 433.13,411.03" fill="#698136"/>
<polygon points="442.16,554.88 446.76,551.52 446.76,411.03 442.16,414.39" fill="#596d2e"/>
<polygon points="428.53,554.88 442.16,554.88 442.16,414.39 428.53,414.39" fill="#87A646"/>
<polygon points="442.16,551.97 455.79,551.97 460.39,548.61 446.76,548.61" fill="#564174"/>
<polygon points="455.79,554.88 460.39,551.52 460.39,548.61 455.79,551.97" fill="#493762"/>
<polygon points="442.16,554.88 455.79,554.88 455.79,551.97 442.16,551.97" fill="#6F5495"/>
<polygon points="455.79,553.38 469.42,553.38 474.02,550.02 460.39,550.02" fill="#2d7587"/>
<polygon points="469.42,554.88 474.02,551.52 474.02,550.02 469.42,553.38" fill="#266372"/>
<polygon points="455.79,554.88 469.42,554.88 469.42,553.38 455.79,553.38" fill="#3A96AE"/>
<polygon points="469.42,516 483.05,516 487.65,512.64 474.02,512.64" fill="#af6a2e"/>
<polygon points="483.05,554.88 487.65,551.52 487.65,512.64 483.05,516" fill="#945927"/>
<polygon points="469.42,554.88 483.05,554.88 483.05,516 469.42,516" fill="#E1883C"/>
<polygon points="483.05,507.45 496.68,507.45 501.28,504.09 487.65,504.09" fill="#7686a8"/>
<polygon points="496.68,554.88 501.28,551.52 501.28,504.09 496.68,507.45" fill="#64718e"/>
<polygon points="483.05,554.88 496.68,554.88 496.68,507.45 483.05,507.45" fill="#98ACD8"/>
<polygon points="517.12,549.48 530.75,549.48 535.35,546.12 521.72,546.12" fill="#2d5483"/>
<polygon points="530.75,554.88 535.35,551.52 535.35,546.12 530.75,549.48" fill="#26476e"/>
<polygon points="517.12,554.88 530.75,554.88 530.75,549.48 517.12,549.48" fill="#3A6CA8"/>
<polygon points="530.75,443.96 544.38,443.96 548.98,440.6 535.35,440.6" fill="#84312e"/>
<polygon points="544.38,554.88 548.98,551.52 548.98,440.6 544.38,443.96" fill="#702927"/>
<polygon points="530.75,554.88 544.38,554.88 544.38,443.96 530.75,443.96" fill="#AA3F3C"/>
<polygon points="544.38,427.45 558.01,427.45 562.61,424.09 548.98,424.09" fill="#698136"/>
<polygon points="558.01,554.88 562.61,551.52 562.61,424.09 558.01,427.45" fill="#596d2e"/>
<polygon points="544.38,554.88 558.01,554.88 558.01,427.45 544.38,427.45" fill="#87A646"/>
<polygon points="558.01,553.68 571.64,553.68 576.24,550.32 562.61,550.32" fill="#564174"/>
<polygon points="571.64,554.88 576.24,551.52 576.24,550.32 571.64,553.68" fill="#493762"/>
<polygon points="558.01,554.88 571.64,554.88 571.64,553.68 558.01,553.68" fill="#6F5495"/>
<polygon points="571.64,553.98 585.27,553.98 589.87,550.62 576.24,550.62" fill="#2d7587"/>
<polygon points="585.27,554.88 589.87,551.52 589.87,550.62 585.27,553.98" fill="#266372"/>
<polygon points="571.64,554.88 585.27,554.88 585.27,553.98 571.64,553.98" fill="#3A96AE"/>
<polygon points="585.27,500.99 598.9,500.99 603.5,497.63 589.87,497.63" fill="#af6a2e"/>
<polygon points="598.9,554.88 603.5,551.52 603.5,497.63 598.9,500.99" fill="#945927"/>
<polygon points="585.27,554.88 598.9,554.88 598.9,500.99 585.27,500.99" fill="#E1883C"/>
<polygon points="598.9,490.04 612.53,490.04 617.13,486.68 603.5,486.68" fill="#7686a8"/>
<polygon points="612.53,554.88 617.13,551.52 617.13,486.68 612.53,490.04" fill="#64718e"/>
<polygon points="598.9,554.88 612.53,554.88 612.53,490.04 598.9,490.04" fill="#98ACD8"/>
<rect x="641.2" y="439.9" width="4.3" height="4.3" fill="#3A6CA8"/>
<rect x="641.2" y="452.35" width="4.3" height="4.3" fill="#AA3F3C"/>
<rect x="641.2" y="464.8" width="4.3" height="4.3" fill="#87A646"/>
<rect x="641.2" y="477.25" width="4.3" height="4.3" fill="#6F5495"/>
<rect x="641.2" y="489.7" width="4.3" height="4.3" fill="#3A96AE"/>
<rect x="641.2" y="502.15" width="4.3" height="4.3" fill="#E1883C"/>
<rect x="641.2" y="514.6" width="4.3" height="4.3" fill="#98ACD8"/>
</g>
<g>
<text x="380.8" y="561.9" text-anchor="end" font-size="9.2">0%</text>
<text x="380.8" y="546.89" text-anchor="end" font-size="9.2">5%</text>
<text x="380.8" y="531.88" text-anchor="end" font-size="9.2">10%</text>
<text x="380.8" y="516.87" text-anchor="end" font-size="9.2">15%</text>
<text x="380.8" y="501.86" text-anchor="end" font-size="9.2">20%</text>
<text x="380.8" y="486.85" text-anchor="end" font-size="9.2">25%</text>
<text x="380.8" y="471.84" text-anchor="end" font-size="9.2">30%</text>
<text x="380.8" y="456.83" text-anchor="end" font-size="9.2">35%</text>
<text x="380.8" y="441.82" text-anchor="end" font-size="9.2">40%</text>
<text x="380.8" y="426.81" text-anchor="end" font-size="9.2">45%</text>
<text x="380.8" y="411.8" text-anchor="end" font-size="9.2">50%</text>
<text x="445.53" y="571.9" text-anchor="middle" font-size="9.2">Male</text>
<text x="561.38" y="571.9" text-anchor="middle" font-size="9.2">Female</text>
<text transform="translate(353.8,483.5) rotate(-90)" text-anchor="middle" font-weight="bold" font-size="10.9" style="stroke-width:0.05px">Frequency</text>
<text x="646.8" y="445.3" font-size="9.0">C</text>
<text x="646.8" y="457.75" font-size="9.0">T</text>
<text x="646.8" y="470.2" font-size="9.0">L</text>
<text x="646.8" y="482.65" font-size="9.0">C+T</text>
<text x="646.8" y="495.1" font-size="9.0">C+L</text>
<text x="646.8" y="507.55" font-size="9.0">T+L</text>
<text x="646.8" y="520" font-size="9.0">NSFs</text>
</g>
</svg>
</body>
</html>
